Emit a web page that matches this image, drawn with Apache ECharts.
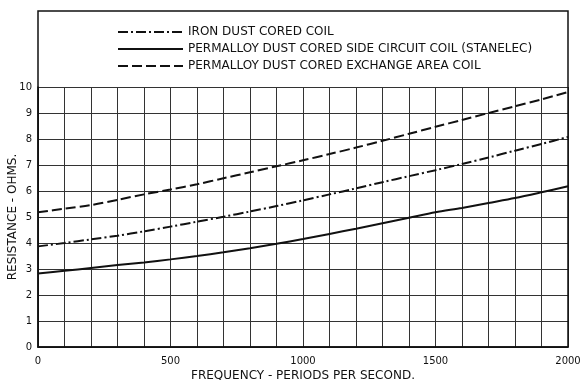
<!DOCTYPE html>
<html>
<head>
<meta charset="utf-8">
<script src="https://cdn.jsdelivr.net/npm/echarts@6/dist/echarts.min.js"></script>
<style>
html,body{margin:0;padding:0;background:#fff;}
#chart{width:581px;height:380px;}
</style>
</head>
<body>
<div id="chart"></div>
<script>
// Frequency (periods per second)
const frequency = [0,100,200,300,400,500,600,700,800,900,1000,1100,1200,1300,1400,1500,1600,1700,1800,1900,2000];
// Resistance (ohms)
const ironDustCored = [3.87,4.00,4.14,4.28,4.45,4.63,4.82,5.01,5.21,5.42,5.64,5.87,6.10,6.34,6.57,6.80,7.04,7.29,7.55,7.81,8.08];
const permalloySideCircuit = [2.83,2.93,3.04,3.15,3.25,3.37,3.50,3.64,3.80,3.97,4.15,4.35,4.55,4.76,4.97,5.18,5.35,5.54,5.73,5.95,6.18];
const permalloyExchangeArea = [5.18,5.32,5.46,5.66,5.87,6.06,6.26,6.49,6.72,6.95,7.18,7.42,7.67,7.93,8.20,8.47,8.73,9.00,9.26,9.52,9.81];
const seriesNames = ['IRON DUST CORED COIL','PERMALLOY DUST CORED SIDE CIRCUIT COIL (STANELEC)','PERMALLOY DUST CORED EXCHANGE AREA COIL'];
const xTickLabels = [0,500,1000,1500,2000];
const xAxisTitle = 'FREQUENCY - PERIODS PER SECOND.';
const yAxisTitle = 'RESISTANCE - OHMS.';

const pairs = (ys) => frequency.map((f,i) => [f, ys[i]]);
const font = 'DejaVu Sans';
const ink = '#111';

const chart = echarts.init(document.getElementById('chart'), null, {renderer:'canvas'});
chart.setOption({
  backgroundColor:'#fff',
  animation:false,
  grid:{left:38,right:13,top:87,bottom:33,containLabel:false,outerBoundsMode:'none'},
  legend:{
    orient:'vertical', left:112, top:21,
    itemWidth:65, itemHeight:12, itemGap:5,
    itemStyle:{color:'rgba(0,0,0,0)',borderWidth:0,borderColor:'rgba(0,0,0,0)'},
    textStyle:{fontFamily:font,fontSize:12,color:ink},
    data:seriesNames
  },
  graphic:[{
    type:'rect', shape:{x:38,y:11,width:530,height:336},
    style:{fill:null,stroke:ink,lineWidth:1.5}, z:10, silent:true
  }],
  xAxis:{
    type:'value', min:0, max:2000, interval:100,
    name:xAxisTitle, nameLocation:'middle', nameGap:23, nameMoveOverlap:false,
    nameTextStyle:{fontFamily:font,fontSize:12,color:ink},
    axisLine:{show:true,lineStyle:{color:ink,width:1.5}},
    axisTick:{show:false},
    axisLabel:{fontFamily:font,fontSize:10,color:ink,margin:9,
      formatter:(v)=> xTickLabels.indexOf(v)>=0 ? String(v) : ''},
    splitLine:{show:true,lineStyle:{color:'#333',width:1}}
  },
  yAxis:{
    type:'value', min:0, max:10, interval:1,
    name:yAxisTitle, nameLocation:'middle', nameGap:19, nameRotate:90, nameMoveOverlap:false,
    nameTextStyle:{fontFamily:font,fontSize:12,color:ink},
    axisLine:{show:true,lineStyle:{color:ink,width:1.5}},
    axisTick:{show:false},
    axisLabel:{fontFamily:font,fontSize:10,color:ink,margin:6},
    splitLine:{show:true,lineStyle:{color:'#333',width:1}}
  },
  series:[
    {name:seriesNames[0],type:'line',data:pairs(ironDustCored),symbol:'none',smooth:0.3,
     lineStyle:{color:ink,width:2,type:[10,3,2,3]},itemStyle:{color:ink},z:5},
    {name:seriesNames[1],type:'line',data:pairs(permalloySideCircuit),symbol:'none',smooth:0.3,
     lineStyle:{color:ink,width:2,type:'solid'},itemStyle:{color:ink},z:5},
    {name:seriesNames[2],type:'line',data:pairs(permalloyExchangeArea),symbol:'none',smooth:0.3,
     lineStyle:{color:ink,width:2,type:[10,4]},itemStyle:{color:ink},z:5}
  ]
});
</script>
</body>
</html>
